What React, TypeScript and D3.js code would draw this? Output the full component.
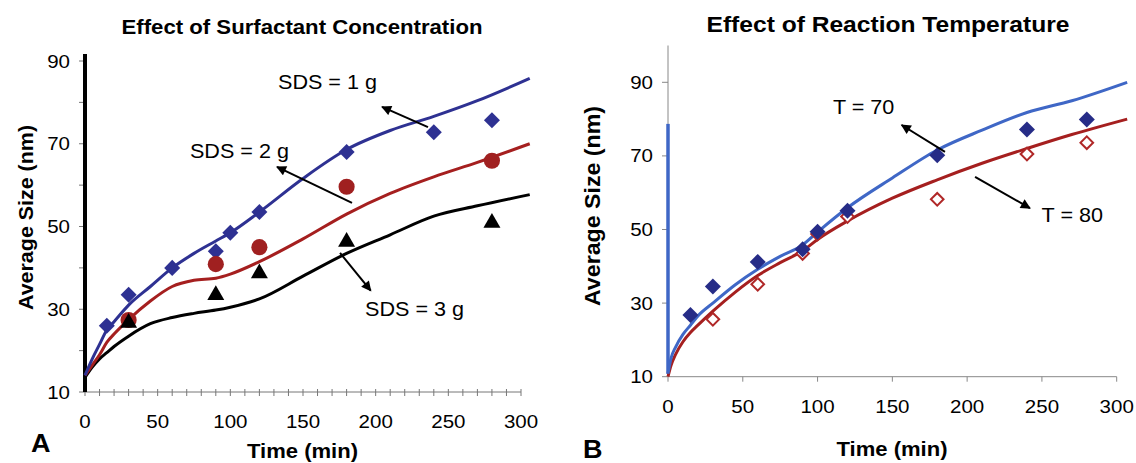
import * as d3 from 'd3';

// panel A: surfactant concentration
const LINE_T = [0, 5, 10, 15, 20, 30, 45, 60, 75, 90, 100, 120, 150, 180, 210, 240, 270, 306];
const SDS1_LINE = [14, 18, 21.5, 25, 27, 31, 35.5, 40, 43.5, 46.5, 48.5, 53.5, 61.6, 68.6, 73.2, 76.6, 80.4, 85.8];
const SDS2_LINE = [14, 16.5, 19, 22, 24, 27.5, 32, 35.5, 37, 37.5, 38.5, 41.5, 47, 53, 58, 62, 65.5, 70];
const SDS3_LINE = [13.5, 16, 18, 19.5, 21, 23.5, 26.5, 28, 29, 29.8, 30.5, 32.5, 38, 43.5, 48, 52.5, 55, 57.7];

const SDS1_PTS_T = [15, 30, 60, 90, 100, 120, 180, 240, 280];
const SDS1_PTS = [26, 33.5, 40, 44, 48.5, 53.5, 68, 72.8, 75.7];
const SDS2_PTS_T = [30, 90, 120, 180, 280];
const SDS2_PTS = [27.4, 40.9, 45, 59.6, 65.9];
const SDS3_PTS_T = [30, 90, 120, 180, 280];
const SDS3_PTS = [26.7, 33.4, 38.7, 46.3, 50.9];

// panel B: reaction temperature
const R_T = [0, 2, 5, 10, 15, 20, 30, 45, 60, 75, 90, 100, 120, 150, 180, 210, 240, 270, 307];
const T70_LINE = [10.8, 15, 18, 21.5, 24, 26.5, 30, 35, 39.2, 42.7, 45.8, 49.3, 55.9, 64, 71.6, 77, 81.8, 85, 90];
const T80_LINE = [10, 13, 16, 19.5, 22, 24, 27.8, 33, 37.5, 41, 44.2, 47.3, 52.3, 58.5, 63.5, 68, 72, 75.8, 80];
const T70_JUMP = [78.7, 10.8]; // vertical start of the T=70 curve at t=0

const T70_PTS_T = [15, 30, 60, 90, 100, 120, 180, 240, 280];
const T70_PTS = [26.8, 34.5, 41.2, 44.6, 49.4, 55.1, 70.2, 77.2, 79.9];
const T80_PTS_T = [30, 60, 90, 100, 120, 180, 240, 280];
const T80_PTS = [25.6, 35.1, 43.5, 48.8, 53.5, 58.2, 70.5, 73.6];

const X_TICKS = [0, 50, 100, 150, 200, 250, 300];
const Y_TICKS = [10, 30, 50, 70, 90];

// annotations, in data units: [label, textT, textV, fromT, fromV, toT, toV]
const LEFT_NOTES: [string, number, number, number, number, number, number][] = [
  ['SDS = 1 g', 132.8, 83.2, 236, 74, 204.4, 78.9],
  ['SDS = 2 g', 72.2, 66.6, 183.7, 55.7, 132.1, 64.4],
  ['SDS = 3 g', 192.7, 28.4, 175.5, 43.6, 196.6, 34.5],
];
const RIGHT_NOTES: [string, number, number, number, number, number, number][] = [
  ['T = 70', 110.3, 81.5, 185.2, 71.1, 156.2, 78.4],
  ['T = 80', 249.8, 52.0, 205.3, 64.3, 242.0, 55.8],
];

const FONT = 'Liberation Sans, Arial, Helvetica, sans-serif';
const SX = 1.08;

const NAVY = '#2e3192';
const DKRED = '#a51f1f';
const BLUE2 = '#3f67c6';
const NAVY2 = '#262c87';

function Txt(props: any) {
  const { x, y, size, bold, anchor = 'start', rotate = false, len, children } = props;
  const tf = rotate ? `translate(${x},${y}) rotate(-90)` : `translate(${x},${y}) scale(${SX},1)`;
  const l = len ? (rotate ? len : len / SX) : undefined;
  return (
    <text
      transform={tf}
      fontSize={size}
      fontWeight={bold ? 'bold' : 'normal'}
      textAnchor={anchor}
      fontFamily={FONT}
      fill="#000"
      textLength={l}
      lengthAdjust={l ? 'spacingAndGlyphs' : undefined}
    >
      {children}
    </text>
  );
}

const zip = (t: number[], v: number[]) => t.map((d, i) => [d, v[i]] as [number, number]);

export default function App() {
  const xL = d3.scaleLinear().domain([0, 300]).range([85, 521]);
  const yL = d3.scaleLinear().domain([10, 90]).range([392, 61]);
  const xR = d3.scaleLinear().domain([0, 300]).range([668, 1116.7]);
  const yR = d3.scaleLinear().domain([10, 90]).range([376.7, 82.3]);

  const lineL = d3.line<[number, number]>().x((d) => xL(d[0])).y((d) => yL(d[1])).curve(d3.curveMonotoneX);
  const lineR = d3.line<[number, number]>().x((d) => xR(d[0])).y((d) => yR(d[1])).curve(d3.curveMonotoneX);

  const diamond = d3.symbol().type(d3.symbolSquare).size(128)();
  const diamondOpen = d3.symbol().type(d3.symbolSquare).size(80)();
  const circle = d3.symbol().type(d3.symbolCircle).size(205)();
  const tri = d3.symbol().type(d3.symbolTriangle).size(125)();

  const notes = (list: typeof LEFT_NOTES, x: any, y: any) =>
    list.map((n) => (
      <g key={n[0]}>
        <line x1={x(n[3])} y1={y(n[4])} x2={x(n[5])} y2={y(n[6])} stroke="#000" strokeWidth={2} markerEnd="url(#arr)" />
        <Txt x={x(n[1])} y={y(n[2])} size={20}>{n[0]}</Txt>
      </g>
    ));

  return (
    <svg width={1136} height={463} style={{ position: 'absolute', left: 0, top: 0, background: '#fff' }}>
      <defs>
        <marker id="arr" viewBox="0 0 10 10" refX="9" refY="5" markerWidth="11" markerHeight="10" markerUnits="userSpaceOnUse" orient="auto">
          <path d="M0,0L10,5L0,10Z" fill="#000" />
        </marker>
      </defs>

      {/* ---------- panel A ---------- */}
      <Txt x={302} y={34} size={20} bold anchor="middle" len={361}>Effect of Surfactant Concentration</Txt>
      <line x1={xL(0)} x2={xL(300)} y1={yL(10)} y2={yL(10)} stroke="#777" strokeWidth={1} />
      {d3.range(0, 301, 10).map((t) => (
        <line key={t} x1={xL(t)} x2={xL(t)} y1={yL(10) - 3} y2={yL(10) + 4} stroke="#777" strokeWidth={1} />
      ))}
      {d3.range(10, 91, 10).map((v) => (
        <line key={v} x1={xL(0) - 6} x2={xL(0)} y1={yL(v)} y2={yL(v)} stroke="#777" strokeWidth={1} />
      ))}
      <line x1={xL(0)} x2={xL(0)} y1={yL(10)} y2={yL(91.7)} stroke="#000" strokeWidth={4} />
      {X_TICKS.map((t) => (
        <Txt key={t} x={xL(t)} y={428} size={19} anchor="middle">{t}</Txt>
      ))}
      {Y_TICKS.map((v) => (
        <Txt key={v} x={70} y={yL(v) + 6.5} size={19} anchor="end">{v}</Txt>
      ))}
      <Txt x={33} y={217.5} size={21} bold anchor="middle" rotate len={185}>Average Size (nm)</Txt>
      <Txt x={302.5} y={458} size={20} bold anchor="middle" len={111}>Time (min)</Txt>
      <Txt x={31} y={452} size={25} bold>A</Txt>

      <path d={lineL(zip(LINE_T, SDS3_LINE)) || ''} fill="none" stroke="#000" strokeWidth={3} />
      <path d={lineL(zip(LINE_T, SDS2_LINE)) || ''} fill="none" stroke={DKRED} strokeWidth={3} />
      <path d={lineL(zip(LINE_T, SDS1_LINE)) || ''} fill="none" stroke={NAVY} strokeWidth={3} />

      {zip(SDS1_PTS_T, SDS1_PTS).map((d, i) => (
        <path key={'d' + i} d={diamond || ''} transform={`translate(${xL(d[0])},${yL(d[1])}) rotate(45)`} fill={NAVY} />
      ))}
      {zip(SDS2_PTS_T, SDS2_PTS).map((d, i) => (
        <path key={'c' + i} d={circle || ''} transform={`translate(${xL(d[0])},${yL(d[1])})`} fill="#a02020" />
      ))}
      {zip(SDS3_PTS_T, SDS3_PTS).map((d, i) => (
        <path key={'t' + i} d={tri || ''} transform={`translate(${xL(d[0])},${yL(d[1])})`} fill="#000" />
      ))}
      {notes(LEFT_NOTES, xL, yL)}

      {/* ---------- panel B ---------- */}
      <Txt x={888} y={31.5} size={22} bold anchor="middle" len={363}>Effect of Reaction Temperature</Txt>
      <line x1={xR(0)} x2={xR(300)} y1={yR(10)} y2={yR(10)} stroke="#888" strokeWidth={1} />
      <line x1={xR(0)} x2={xR(0)} y1={yR(10)} y2={yR(100)} stroke="#888" strokeWidth={1} />
      {X_TICKS.map((t) => (
        <line key={t} x1={xR(t)} x2={xR(t)} y1={yR(10)} y2={yR(10) + 5} stroke="#888" strokeWidth={1} />
      ))}
      {Y_TICKS.map((v) => (
        <line key={v} x1={xR(0) - 6} x2={xR(0)} y1={yR(v)} y2={yR(v)} stroke="#888" strokeWidth={1} />
      ))}
      {X_TICKS.map((t) => (
        <Txt key={t} x={xR(t)} y={413} size={19} anchor="middle">{t}</Txt>
      ))}
      {Y_TICKS.map((v) => (
        <Txt key={v} x={653} y={yR(v) + 6.5} size={19} anchor="end">{v}</Txt>
      ))}
      <Txt x={600} y={206} size={22} bold anchor="middle" rotate len={200}>Average Size (nm)</Txt>
      <Txt x={892} y={456} size={20} bold anchor="middle" len={111}>Time (min)</Txt>
      <Txt x={583} y={458} size={25} bold>B</Txt>

      <line x1={xR(0)} x2={xR(0)} y1={yR(T70_JUMP[0])} y2={yR(T70_JUMP[1])} stroke={BLUE2} strokeWidth={3.5} />
      <path d={lineR(zip(R_T, T80_LINE)) || ''} fill="none" stroke={DKRED} strokeWidth={3} />
      <path d={lineR(zip(R_T, T70_LINE)) || ''} fill="none" stroke={BLUE2} strokeWidth={3} />

      {zip(T80_PTS_T, T80_PTS).map((d, i) => (
        <path key={'o' + i} d={diamondOpen || ''} transform={`translate(${xR(d[0])},${yR(d[1])}) rotate(45)`} fill="#fff" stroke="#b02828" strokeWidth={2} />
      ))}
      {zip(T70_PTS_T, T70_PTS).map((d, i) => (
        <path key={'f' + i} d={diamond || ''} transform={`translate(${xR(d[0])},${yR(d[1])}) rotate(45)`} fill={NAVY2} />
      ))}
      {notes(RIGHT_NOTES, xR, yR)}
    </svg>
  );
}
